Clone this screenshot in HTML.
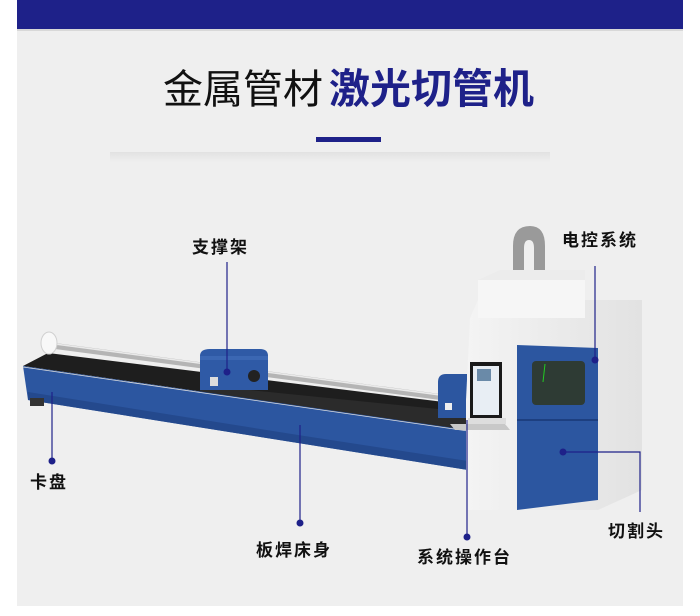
<!DOCTYPE html>
<html><head><meta charset="utf-8"><style>
html,body{margin:0;padding:0;background:#fff;}
body{width:700px;height:616px;position:relative;overflow:hidden;font-family:"Liberation Sans","Noto Sans CJK SC",sans-serif;}
</style></head><body>
<svg width="700" height="616" viewBox="0 0 700 616" xmlns="http://www.w3.org/2000/svg" style="position:absolute;left:0;top:0">
<defs>
<linearGradient id="sh" x1="0" y1="0" x2="0" y2="1"><stop offset="0" stop-color="#dcdcdc"/><stop offset="1" stop-color="#efefef"/></linearGradient>
<linearGradient id="cab" x1="0" y1="0" x2="1" y2="0"><stop offset="0" stop-color="#f4f4f4"/><stop offset="1" stop-color="#e2e2e2"/></linearGradient>
</defs>
<rect x="17" y="0" width="666" height="606" fill="#efefef"/>
<rect x="17" y="0" width="666" height="29" fill="#1e2189"/>
<rect x="17" y="29" width="666" height="2" fill="#d8d8d8"/>
<rect x="110" y="152" width="440" height="10" fill="url(#sh)" opacity="0.7"/>
<text x="163" y="103" font-size="40" fill="#111" font-family="Liberation Sans,Noto Sans CJK SC,sans-serif">金属管材</text>
<text x="329" y="103" font-size="41" font-weight="bold" fill="#1e2189" font-family="Liberation Sans,Noto Sans CJK SC,sans-serif">激光切管机</text>
<rect x="316" y="137" width="65" height="5" fill="#1e2189"/>

<!-- bed black top -->
<polygon points="23,366 48,353 468,405 468,430" fill="#1e1e1e"/>
<polygon points="200,385 468,412 468,430 200,395" fill="#2b2b2b"/>
<!-- rod -->
<polygon points="55,343 440,394 440,400 55,349" fill="#b5b5b5"/>
<line x1="55" y1="344" x2="440" y2="395" stroke="#eaeaea" stroke-width="1.5"/>
<ellipse cx="49" cy="343" rx="8" ry="11" fill="#f8f8f8" stroke="#d0d0d0"/>
<!-- bed front -->
<polygon points="23,366 468,430 468,470 298,443 28,400" fill="#2c56a0"/>
<polygon points="28,392 298,435 468,461 468,470 298,443 28,400" fill="#24498d"/>
<line x1="23" y1="367" x2="468" y2="431" stroke="#ddd" stroke-width="0.8"/>
<rect x="30" y="398" width="14" height="8" fill="#333"/>
<!-- support -->
<path d="M200,356 Q200,349 210,349 L260,349 Q268,349 268,356 L268,390 L200,390 Z" fill="#2f5aa6"/>
<polygon points="200,356 268,356 268,360 200,360" fill="#3b67b3"/>
<circle cx="254" cy="376" r="6" fill="#222"/>
<rect x="210" y="377" width="8" height="9" fill="#ddd"/>
<!-- small blue box -->
<path d="M438,382 Q438,374 446,374 L467,374 L467,418 L438,418 Z" fill="#2c56a0"/>
<rect x="445" y="403" width="7" height="7" fill="#eee"/>
<!-- cabinet -->
<path d="M513,282 L513,246 Q513,226 530,226 Q545,226 545,246 L545,282 L534,282 L534,248 Q534,240 529,240 Q524,240 524,248 L524,282 Z" fill="#9a9a9a"/>
<polygon points="470,318 478,300 642,300 642,490 598,510 466,510 466,400" fill="url(#cab)"/>
<polygon points="478,280 585,280 585,318 478,318" fill="#f6f6f6"/>
<polygon points="478,280 500,270 585,270 585,280" fill="#ececec"/>
<polygon points="517,345 598,348 598,500 517,510" fill="#2c56a0"/>
<line x1="517" y1="420" x2="598" y2="420" stroke="#1d3f80" stroke-width="2"/>
<rect x="532" y="361" width="53" height="44" rx="4" fill="#2e3b34"/>
<line x1="545" y1="364" x2="543" y2="382" stroke="#2c2" stroke-width="1"/>
<!-- screen -->
<rect x="470" y="362" width="32" height="56" fill="#1a1a1a"/>
<rect x="473" y="366" width="26" height="49" fill="#e8eef4"/>
<rect x="477" y="369" width="14" height="12" fill="#6a8aa8"/>
<rect x="468" y="418" width="38" height="6" fill="#ddd"/>
<polygon points="450,424 505,424 510,430 455,430" fill="#c8c8c8"/>

<g fill="#1e2189" stroke="#1e2189">
<line x1="227" y1="262" x2="227" y2="372" stroke-width="1.2"/><circle cx="227" cy="372" r="3"/>
<line x1="595" y1="266" x2="595" y2="360" stroke-width="1.2"/><circle cx="595" cy="360" r="3"/>
<line x1="52" y1="392" x2="52" y2="461" stroke-width="1.2"/><circle cx="52" cy="461" r="3"/>
<line x1="300" y1="425" x2="300" y2="523" stroke-width="1.2"/><circle cx="300" cy="523" r="3"/>
<line x1="467" y1="420" x2="467" y2="537" stroke-width="1.2"/><circle cx="467" cy="537" r="3"/>
<polyline points="563,452 640,452 640,512" fill="none" stroke-width="1.2"/><circle cx="563" cy="452" r="3"/>
</g>
<g font-size="17" fill="#111" font-weight="bold" font-family="Liberation Sans,Noto Sans CJK SC,sans-serif" letter-spacing="2">
<text x="192" y="253">支撑架</text>
<text x="562" y="246">电控系统</text>
<text x="30" y="488">卡盘</text>
<text x="256" y="556">板焊床身</text>
<text x="417" y="563">系统操作台</text>
<text x="608" y="537">切割头</text>
</g>
</svg>
</body></html>
